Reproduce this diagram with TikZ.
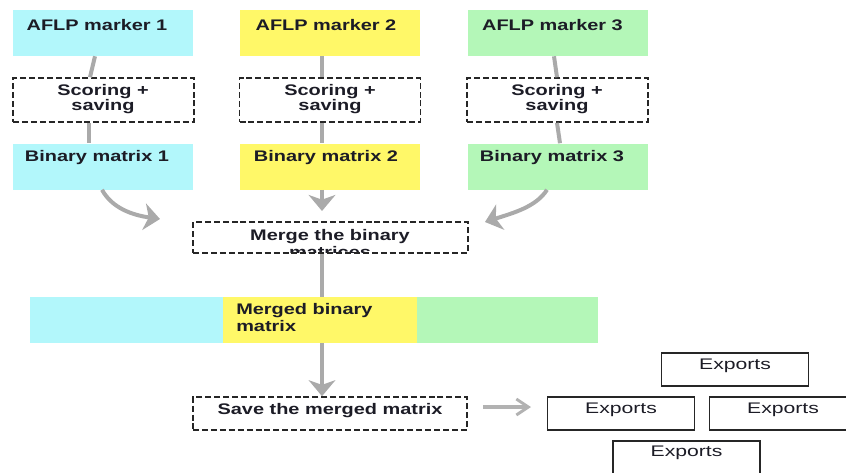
\documentclass[tikz,border=0pt]{standalone}
\usepackage{fontspec}
\setmainfont{Liberation Sans}
\usepackage{graphicx}
\usetikzlibrary{arrows.meta}

\definecolor{boxcyan}{RGB}{178,247,251}
\definecolor{boxyellow}{RGB}{255,248,104}
\definecolor{boxgreen}{RGB}{180,247,184}
\definecolor{linkgray}{RGB}{170,170,170}
\definecolor{inkdark}{RGB}{28,28,38}

% labels are set wide, as in the original chart
\newcommand{\wtext}[1]{\scalebox{1.3}[1]{#1}}

\tikzset{
  lbl/.style={inner sep=0pt, text=inkdark, font=\bfseries\fontsize{11.5}{12}\selectfont},
  lbltwo/.style={lbl, align=center, font=\bfseries\fontsize{11.5}{11.2}\selectfont},
  colbox/.style={draw=none, inner sep=0pt, minimum width=135pt, minimum height=34.5pt},
  dashbox/.style={draw=black!85, dashed, dash pattern=on 4.5pt off 2.2pt, line width=1.2pt, inner sep=0pt},
  exbox/.style={draw=black!85, line width=1.2pt, inner sep=0pt, minimum width=110pt, minimum height=24.75pt},
  link/.style={draw=linkgray, line width=3pt},
  flow/.style={link, -{Stealth[length=12pt, width=20pt, inset=3.5pt]}},
  thinflow/.style={draw=linkgray!90, line width=2.4pt, -{Straight Barb[length=9pt, width=12pt, line width=2.2pt]}},
}

\begin{document}
\begin{tikzpicture}[x=0.75pt, y=-0.75pt]
\useasboundingbox (0,0) rectangle (846,472);
\clip (0,0) rectangle (846,472);

% three marker columns
\node[colbox, fill=boxcyan]   (m1) at (103,33) {};
\node[colbox, fill=boxyellow] (m2) at (330,33) {};
\node[colbox, fill=boxgreen]  (m3) at (557.5,33) {};

\node[dashbox, minimum width=135.75pt, minimum height=33pt] (s1) at (103.5,100) {};
\node[dashbox, minimum width=135.75pt, minimum height=33pt] (s2) at (330,100) {};
\node[dashbox, minimum width=135.75pt, minimum height=33pt] (s3) at (557.5,100) {};

\node[colbox, fill=boxcyan]   (b1) at (103,166.5) {};
\node[colbox, fill=boxyellow] (b2) at (330,166.5) {};
\node[colbox, fill=boxgreen]  (b3) at (557.5,166.5) {};

\node[lbl] (m1t) at (97,25) {\wtext{AFLP marker 1}};
\node[lbl] (m2t) at (326,25) {\wtext{AFLP marker 2}};
\node[lbl] (m3t) at (552.5,25) {\wtext{AFLP marker 3}};

\node[lbltwo] (s1t) at (103,99.5) {\wtext{Scoring +}\\\wtext{saving}};
\node[lbltwo] (s2t) at (330,99.5) {\wtext{Scoring +}\\\wtext{saving}};
\node[lbltwo] (s3t) at (557,99.5) {\wtext{Scoring +}\\\wtext{saving}};

\node[lbl] (b1t) at (97,158) {\wtext{Binary matrix 1}};
\node[lbl] (b2t) at (326,158) {\wtext{Binary matrix 2}};
\node[lbl] (b3t) at (552,158) {\wtext{Binary matrix 3}};

% column links
\draw[link] (m1.south -| 95,0) -- (s1.north -| 90,0);
\draw[link] (s1.south -| 89,0) -- (b1.north -| 89,0);
\draw[link] (m2.south -| 322,0) -- (s2.north -| 322,0);
\draw[link] (s2.south -| 322,0) -- (b2.north -| 322,0);
\draw[link] (m3.south -| 554,0) -- (s3.north -| 557,0);
\draw[link] (s3.south -| 557,0) -- (b3.north -| 560,0);

% merge step: the second text line runs into the lower border
\begin{scope}
  \clip (194,223) rectangle (467,252);
  \node[lbltwo, font=\bfseries\fontsize{11.5}{12.2}\selectfont, anchor=north] (mgt) at (330,229.5) {\wtext{Merge the binary}\\\wtext{matrices}};
\end{scope}
\node[dashbox, minimum width=206pt, minimum height=23.25pt] (mg) at (330.5,237.5) {};

\coordinate (t1) at (160,219);
\coordinate (t3) at (485,222);
\draw[flow] (b1.south -| 102,0) .. controls (112,208) and (132,215) .. (t1);
\draw[flow] (b2.south -| 322,0) -- (322,211) coordinate (t2);
\draw[flow] (b3.south -| 547,0) .. controls (536,207) and (513,213) .. (t3);

% merged matrix bar
\node[draw=none, fill=boxcyan,   inner sep=0pt, minimum width=145.5pt, minimum height=34.5pt] (mb1) at (127,320) {};
\node[draw=none, fill=boxyellow, inner sep=0pt, minimum width=146.25pt, minimum height=34.5pt] (mb2) at (320.5,320) {};
\node[draw=none, fill=boxgreen,  inner sep=0pt, minimum width=135.75pt, minimum height=34.5pt] (mb3) at (507.5,320) {};
\node[lbltwo, align=left, anchor=north west, font=\bfseries\fontsize{11.5}{12.6}\selectfont] (mbt) at (236,303.5) {\wtext{Merged binary}\\\wtext{matrix}};

\draw[link] (mg.south -| 322,0) -- (mb2.north -| 322,0);

% saving step
\node[dashbox, minimum width=205.5pt, minimum height=24.75pt] (sv) at (330,413.5) {};
\node[lbl] (svt) at (330,410.5) {\wtext{Save the merged matrix}};
\draw[flow] (mb2.south -| 322,0) -- (sv.north -| 322,0);

% exports
\node[exbox] (e1) at (735,369.5) {};
\node[exbox] (e2) at (621,413.5) {};
\node[exbox] (e3) at (783,413.5) {};
\node[exbox] (e4) at (686.5,457.5) {};
\node[lbl, font=\fontsize{11.5}{12}\selectfont] (e1t) at (735,366) {\scalebox{1.38}[1]{Exports}};
\node[lbl, font=\fontsize{11.5}{12}\selectfont] (e2t) at (621,410) {\scalebox{1.38}[1]{Exports}};
\node[lbl, font=\fontsize{11.5}{12}\selectfont] (e3t) at (783,410) {\scalebox{1.38}[1]{Exports}};
\node[lbl, font=\fontsize{11.5}{12}\selectfont] (e4t) at (686.5,453) {\scalebox{1.38}[1]{Exports}};

\coordinate (tx) at (531,407);
\draw[thinflow] (sv.east |- 0,407) ++(15,0) coordinate (sx) -- (tx);
\end{tikzpicture}
\end{document}
